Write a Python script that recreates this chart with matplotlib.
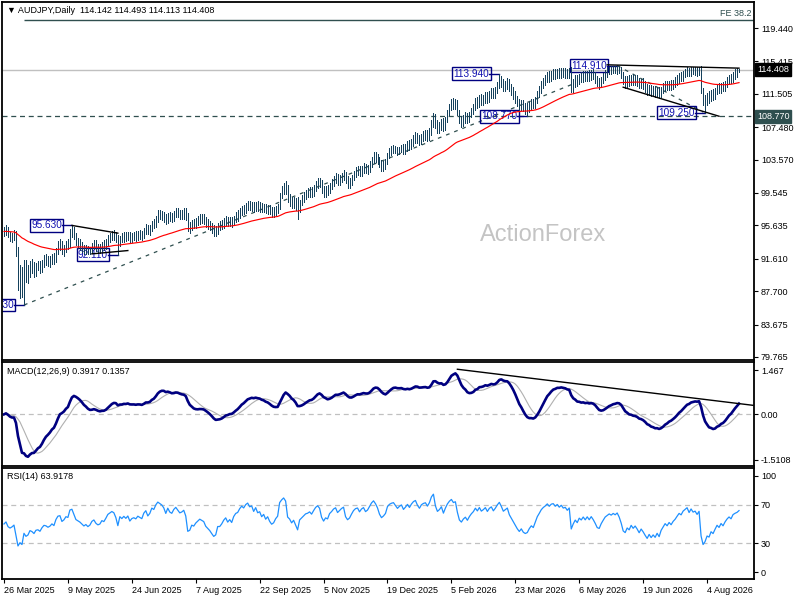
import numpy as np
import pandas as pd
import matplotlib
matplotlib.use('Agg')
import matplotlib.pyplot as plt

plt.rcParams['font.family'] = ['Liberation Sans', 'DejaVu Sans']

# daily closes, one row per week, 26 Mar 2025 .. 26 Aug 2026
close = [
  94.9, 95.3, 94.4,
  94.1, 94.3, 94.6, 92.3, 88.6,
  89.2, 88.4, 90.7, 89.6, 89.9,
  90.9, 90.6, 90.0, 90.7, 90.8,
  90.4, 91.1, 91.6, 91.5, 91.2,
  91.4, 91.8, 91.5, 92.6, 93.3,
  93.4, 92.5, 92.8, 93.4, 93.3,
  94.9, 95.1, 94.4, 93.6, 93.4,
  93.2, 92.9, 92.6, 92.8, 92.5,
  92.7, 93.2, 93.4, 93.0, 92.8,
  92.9, 93.3, 93.2, 93.6, 94.1,
  94.3, 94.5, 94.4, 94.0, 93.2,
  94.3, 94.1, 94.4, 94.2, 94.5,
  94.0, 94.3, 94.4, 94.3, 94.6,
  94.5, 94.4, 95.0, 95.3, 94.9,
  95.2, 95.9, 95.8, 96.5, 97.0,
  96.9, 96.8, 96.6, 96.2, 96.9,
  96.6, 96.5, 97.0, 97.3, 97.1,
  96.9, 97.0, 97.2, 96.8, 95.3,
  95.4, 95.9, 95.8, 96.1, 96.3,
  96.5, 96.4, 96.3, 95.9, 95.7,
  95.5, 95.2, 94.9, 95.0, 95.6,
  95.6, 95.8, 96.1, 96.3, 96.0,
  96.2, 96.0, 96.5, 96.8, 96.9,
  97.3, 97.6, 97.5, 97.9, 98.1,
  97.9, 98.0, 97.7, 98.1, 97.8,
  97.9, 97.6, 97.8, 97.5, 97.7,
  97.4, 97.2, 97.3, 97.6, 97.8,
  99.4, 99.9, 100.3, 100.1, 98.8,
  98.6, 98.2, 98.5, 98.0, 97.4,
  98.6, 98.9, 99.2, 99.5, 99.6,
  99.8, 99.6, 100.1, 100.6, 100.9,
  100.7, 99.9, 99.5, 99.9, 99.8,
  100.5, 100.8, 101.2, 101.4, 101.0,
  101.3, 101.6, 101.8, 101.0, 100.7,
  100.9, 101.4, 101.9, 102.2, 102.3,
  102.0, 102.4, 102.6, 102.3, 102.5,
  103.0, 103.6, 104.0, 103.8, 103.5,
  103.0, 102.7, 102.9, 103.2, 104.2,
  104.6, 104.8, 104.9, 104.7,
  104.5, 104.8, 105.0, 104.7,
  105.0, 105.4, 105.2, 105.7, 106.1,
  106.3, 106.0, 105.8, 106.3, 106.5,
  106.6, 106.4, 106.9, 108.0, 108.7,
  107.8, 107.3, 107.6, 108.1, 107.5,
  108.4, 109.3, 110.0, 110.5, 110.2,
  110.4, 109.3, 108.3, 108.0, 108.5,
  108.8, 108.4, 109.0, 109.5, 109.9,
  110.6, 110.3, 111.0, 110.6, 110.9,
  111.3, 110.9, 111.5, 111.8, 111.4,
  111.9, 112.6, 113.2, 112.8, 112.3,
  112.6, 112.9, 112.2, 111.8, 111.4,
  110.9, 110.4, 110.0, 110.3, 109.8,
  109.6, 109.7, 110.1, 110.4, 110.2,
  110.8, 111.5, 112.0, 112.6, 113.0,
  113.3, 113.7, 113.5, 113.9, 114.0,
  113.8, 114.1, 113.9, 114.2, 114.0,
  114.1, 113.9, 114.2, 112.2, 112.8,
  113.3, 113.0, 113.6, 113.4, 113.8,
  113.5, 113.9, 113.6, 114.0, 113.7,
  113.3, 112.8, 112.7, 113.2, 113.6,
  114.0, 114.2, 114.4, 114.3, 114.5,
  114.4, 114.6, 114.3, 113.8, 113.0,
  112.8, 113.2, 113.0, 113.4, 113.1,
  113.3, 113.0, 112.6, 112.9, 112.6,
  112.2, 111.8, 112.1, 111.7, 111.9,
  111.6, 111.9, 111.5, 112.0, 112.3,
  112.6, 112.4, 112.7, 112.5, 112.8,
  113.0, 113.3, 113.6, 113.5, 113.9,
  114.1, 114.3, 114.0, 114.4, 114.2,
  114.3, 114.1, 114.4, 112.0, 110.3,
  110.6, 111.2, 111.0, 111.6, 111.3,
  111.8, 112.3, 112.0, 112.5, 112.2,
  112.7, 113.1, 113.4, 113.2, 113.8,
  114.0, 114.142, 114.408,
]

# daily high-low range
rng = [
  1.1, 1.2, 1.3,
  1.1, 1.1, 1.2, 3.0, 5.2,
  4.0, 3.6, 3.8, 2.6, 2.2,
  1.9, 1.7, 1.8, 1.6, 1.1,
  1.5, 1.4, 1.5, 1.3, 1.2,
  1.3, 1.2, 1.3, 1.7, 1.5,
  1.4, 1.5, 1.3, 1.4, 1.2,
  2.1, 1.6, 1.5, 1.4, 1.2,
  1.3, 1.2, 1.1, 1.1, 1.0,
  0.9, 1.2, 1.1, 1.3, 1.1,
  1.2, 1.1, 1.2, 1.3, 1.2,
  1.1, 1.1, 1.2, 1.2, 1.8,
  1.1, 1.1, 1.2, 1.1, 1.0,
  1.2, 1.1, 1.0, 1.1, 1.1,
  1.0, 1.1, 1.2, 1.2, 1.1,
  1.2, 1.3, 1.1, 1.3, 1.4,
  1.2, 1.1, 1.2, 1.3, 1.2,
  1.1, 1.1, 1.2, 1.1, 1.0,
  1.1, 1.2, 1.3, 1.4, 2.1,
  1.3, 1.2, 1.1, 1.2, 1.1,
  1.1, 1.1, 1.2, 1.2, 1.1,
  1.1, 1.2, 1.3, 1.2, 1.3,
  1.1, 1.1, 1.2, 1.1, 1.1,
  1.1, 1.2, 1.1, 1.2, 1.3,
  1.2, 1.1, 1.2, 1.2, 1.1,
  1.1, 1.1, 1.2, 1.1, 1.2,
  1.1, 1.1, 1.0, 1.1, 1.1,
  1.1, 1.2, 1.1, 1.1, 1.1,
  1.9, 1.4, 1.3, 1.6, 2.1,
  1.5, 1.4, 1.3, 1.4, 2.6,
  1.5, 1.2, 1.2, 1.1, 1.1,
  1.2, 1.2, 1.3, 1.2, 1.2,
  1.1, 1.5, 1.4, 1.3, 1.2,
  1.3, 1.2, 1.2, 1.2, 1.3,
  1.2, 1.1, 1.2, 1.4, 1.4,
  1.2, 1.2, 1.1, 1.2, 1.1,
  1.2, 1.1, 1.2, 1.1, 1.1,
  1.3, 1.2, 1.3, 1.2, 1.2,
  1.2, 1.3, 1.1, 1.2, 1.4,
  1.2, 1.1, 1.0, 0.9,
  1.0, 0.9, 0.9, 1.1,
  1.1, 1.2, 1.2, 1.2, 1.3,
  1.3, 1.2, 1.2, 1.3, 1.2,
  1.2, 1.3, 1.4, 1.9, 1.6,
  1.7, 1.5, 1.4, 1.3, 1.5,
  1.5, 1.4, 1.3, 1.3, 1.4,
  1.2, 1.7, 1.6, 1.4, 1.3,
  1.3, 1.2, 1.3, 1.2, 1.2,
  1.4, 1.3, 1.4, 1.3, 1.3,
  1.3, 1.3, 1.4, 1.2, 1.3,
  1.3, 1.4, 1.5, 1.3, 1.4,
  1.3, 1.3, 1.4, 1.3, 1.4,
  1.4, 1.3, 1.3, 1.2, 1.3,
  1.3, 1.5, 1.2, 1.2, 1.1,
  1.3, 1.4, 1.3, 1.4, 1.3,
  1.2, 1.2, 1.3, 1.2, 1.2,
  1.2, 1.1, 1.2, 1.2, 1.1,
  1.2, 1.1, 1.2, 3.0, 1.5,
  1.4, 1.3, 1.3, 1.2, 1.3,
  1.2, 1.2, 1.3, 1.2, 1.2,
  1.3, 1.3, 1.3, 1.2, 1.2,
  1.2, 1.2, 0.9, 0.9, 0.8,
  0.8, 1.2, 0.8, 1.3, 1.5,
  1.4, 1.3, 1.3, 1.2, 1.3,
  1.2, 1.3, 1.3, 1.2, 1.3,
  1.3, 1.3, 1.2, 1.3, 1.2,
  1.3, 1.2, 1.3, 1.2, 1.2,
  1.2, 1.1, 1.1, 1.2, 1.1,
  1.2, 1.2, 1.2, 1.1, 1.2,
  1.0, 1.0, 1.0, 1.0, 0.9,
  0.9, 1.0, 0.9, 3.2, 2.1,
  1.8, 1.5, 1.4, 1.3, 1.3,
  1.3, 1.2, 1.2, 1.2, 1.1,
  1.2, 1.2, 1.1, 1.1, 1.2,
  1.2, 1.1, 0.38,
]

last_bar = [114.142, 114.493, 114.113, 114.408]   # O H L C

# labelled swing points (bar index, price)
swing_idx = [10, 34, 57, 248, 262, 307, 351]
swing_px = [86.030, 95.630, 92.110, 113.940, 108.770, 114.910, 109.250]
swing_kind = ['low', 'high', 'low', 'high', 'low', 'high', 'low']

# drawn lines (bar index pairs, price pairs)
tl_rise = ([10, 284], [86.03, 112.6])
tl_fall = ([307, 350], [114.91, 109.3])
tri_a_top = ([34, 57], [95.63, 94.7])
tri_a_bot = ([44, 62], [92.2, 92.6])
tri_b_top = ([302, 368], [115.0, 114.6])
tri_b_bot = ([310, 358], [112.3, 108.8])
macd_tl = ([227, 375], [1.50, 0.30])
fe_level = 120.4
support = 108.770

price_ticks = [119.440, 115.415, 111.505, 107.480, 103.570, 99.545, 95.635, 91.610, 87.700, 83.675, 79.765]
macd_ticks = [1.467, 0.0, -1.5108]
macd_labels = ['1.467', '0.00', '-1.5108']
rsi_ticks = [100, 70, 30, 0]
macd_read = (0.3917, 0.1357)
rsi_read = 63.9178

holidays = ['2025-12-25', '2026-01-01']

n = len(close)
dates = pd.bdate_range('2025-03-26', '2026-12-31')
dates = dates[~dates.isin(pd.to_datetime(holidays))][:n]

c = np.array(close)
o = np.r_[c[0], c[:-1]]
wick = np.clip(np.array(rng) - np.abs(c - o), 0, None) / 2
hi = np.maximum(o, c) + wick
lo = np.minimum(o, c) - wick
for i, p, k in zip(swing_idx, swing_px, swing_kind):
  if k == 'high':
    hi[i] = p
  else:
    lo[i] = p
hi[-1], lo[-1] = last_bar[1], last_bar[2]

s = pd.Series(c)
ma55 = s.ewm(span=55, adjust=False).mean()
macd = s.ewm(span=12, adjust=False).mean() - s.ewm(span=26, adjust=False).mean()
signal = macd.rolling(9, min_periods=1).mean()

def rsi_wilder(vals, period=14, seed=0.35):
  g = l = seed
  out = [50.0]
  for d in np.diff(vals):
    g = (g * (period - 1) + max(d, 0)) / period
    l = (l * (period - 1) + max(-d, 0)) / period
    out.append(100 - 100 / (1 + g / l))
  return np.array(out)

rsi = rsi_wilder(c)

x = np.arange(n)
xmax = 375.5
bar_col = '#15415c'
slate = '#2F4F4F'
navy = '#000080'
fs = 6.5

fig = plt.figure(figsize=(8, 6), dpi=100)
ax1 = fig.add_axes([0.0025, 0.4, 0.94, 0.5967])
ax2 = fig.add_axes([0.0025, 0.2233, 0.94, 0.1733], sharex=ax1)
ax3 = fig.add_axes([0.0025, 0.035, 0.94, 0.185], sharex=ax1)

for ax in (ax1, ax2, ax3):
  for sp in ax.spines.values():
    sp.set_linewidth(1.3)
    sp.set_color('black')
  ax.yaxis.tick_right()
  ax.tick_params(axis='y', length=3, width=0.8, labelsize=fs, pad=2)
  ax.tick_params(axis='x', length=3, width=0.8, labelsize=fs, pad=2)

# price panel
ax1.set_xlim(-1, xmax)
ax1.set_ylim(79.40, 122.58)
ax1.text(0.72, 0.349, 'ActionForex', transform=ax1.transAxes, fontsize=17,
         color='#c4c4c4', ha='center', va='center', zorder=0)
ax1.axhline(last_bar[3], color='#c0c0c0', lw=1, zorder=1)
ax1.axhline(support, color=slate, lw=0.9, ls=(0, (4, 3)), zorder=1)
ax1.hlines(fe_level, 10, xmax, color=slate, lw=1, zorder=1)
ax1.text(xmax - 1.5, fe_level + 0.3, 'FE 38.2', ha='right', va='bottom',
         fontsize=fs, color=slate)
ax1.plot(*tl_rise, color=slate, lw=0.9, ls=(0, (3, 4)), zorder=1)
ax1.plot(*tl_fall, color=slate, lw=0.9, ls=(0, (3, 4)), zorder=1)
for seg in (tri_a_top, tri_a_bot, tri_b_top, tri_b_bot):
  ax1.plot(*seg, color='black', lw=1, zorder=3)

for i, p in zip(swing_idx, swing_px):
  ax1.plot([i - 5, i], [p, p], color=navy, lw=1, zorder=1)
  ax1.text(i - 5, p, f'{p:.3f}', ha='right', va='center', fontsize=7.2,
           color='#1010b0', zorder=1, clip_on=True,
           bbox=dict(boxstyle='square,pad=0.12', fc='none', ec=navy, lw=1))

ax1.vlines(x, lo, hi, color=bar_col, lw=0.5, zorder=2, antialiased=False)
ax1.plot(x, ma55, color='#ff0000', lw=0.85, zorder=2.5)

ax1.set_yticks(price_ticks)
ax1.set_yticklabels([f'{t:.3f}' for t in price_ticks])
ytr = ax1.get_yaxis_transform()
ax1.text(1.004, last_bar[3], f'{last_bar[3]:.3f}', transform=ytr, ha='left', va='center',
         fontsize=fs, color='white', clip_on=False, zorder=5,
         bbox=dict(boxstyle='square,pad=0.2', fc='black', ec='black'))
ax1.text(1.004, support, f'{support:.3f}', transform=ytr, ha='left', va='center',
         fontsize=fs, color='white', clip_on=False, zorder=5,
         bbox=dict(boxstyle='square,pad=0.2', fc=slate, ec=slate))
ohlc_txt = ' '.join(f'{v:.3f}' for v in last_bar)
ax1.text(0.0066, 0.975, '\u25bc AUDJPY,Daily  ' + ohlc_txt, transform=ax1.transAxes,
         fontsize=fs, ha='left', va='center')

# MACD panel
ax2.set_ylim(-1.72, 1.74)
ax2.axhline(0, color='#c0c0c0', lw=0.9, ls=(0, (4, 3)))
ax2.plot(x, signal, color='#b0b0b0', lw=0.8)
ax2.plot(x, macd, color=navy, lw=1.9)
ax2.plot(*macd_tl, color='black', lw=1)
ax2.set_yticks(macd_ticks)
ax2.set_yticklabels(macd_labels)
ax2.text(0.0066, 0.913, 'MACD(12,26,9) %.4f %.4f' % macd_read, transform=ax2.transAxes,
         fontsize=fs, ha='left', va='center')

# RSI panel
ax3.set_ylim(-7, 108)
ax3.axhline(70, color='#c0c0c0', lw=0.9, ls=(0, (4, 3)))
ax3.axhline(30, color='#c0c0c0', lw=0.9, ls=(0, (4, 3)))
ax3.plot(x, rsi, color='#1e90ff', lw=0.9)
ax3.set_yticks(rsi_ticks)
ax3.set_yticklabels([str(t) for t in rsi_ticks])
ax3.text(0.0066, 0.919, 'RSI(14) %.4f' % rsi_read, transform=ax3.transAxes,
         fontsize=fs, ha='left', va='center')

tick_pos = list(range(0, n, 32))
ax3.set_xticks(tick_pos)
ax3.set_xticklabels([f'{dates[i].day} {dates[i].strftime("%b %Y")}' for i in tick_pos], ha='left')
ax1.tick_params(axis='x', labelbottom=False, length=0)
ax2.tick_params(axis='x', labelbottom=False, length=0)

fig.savefig('out.png', dpi=100)
plt.close()
